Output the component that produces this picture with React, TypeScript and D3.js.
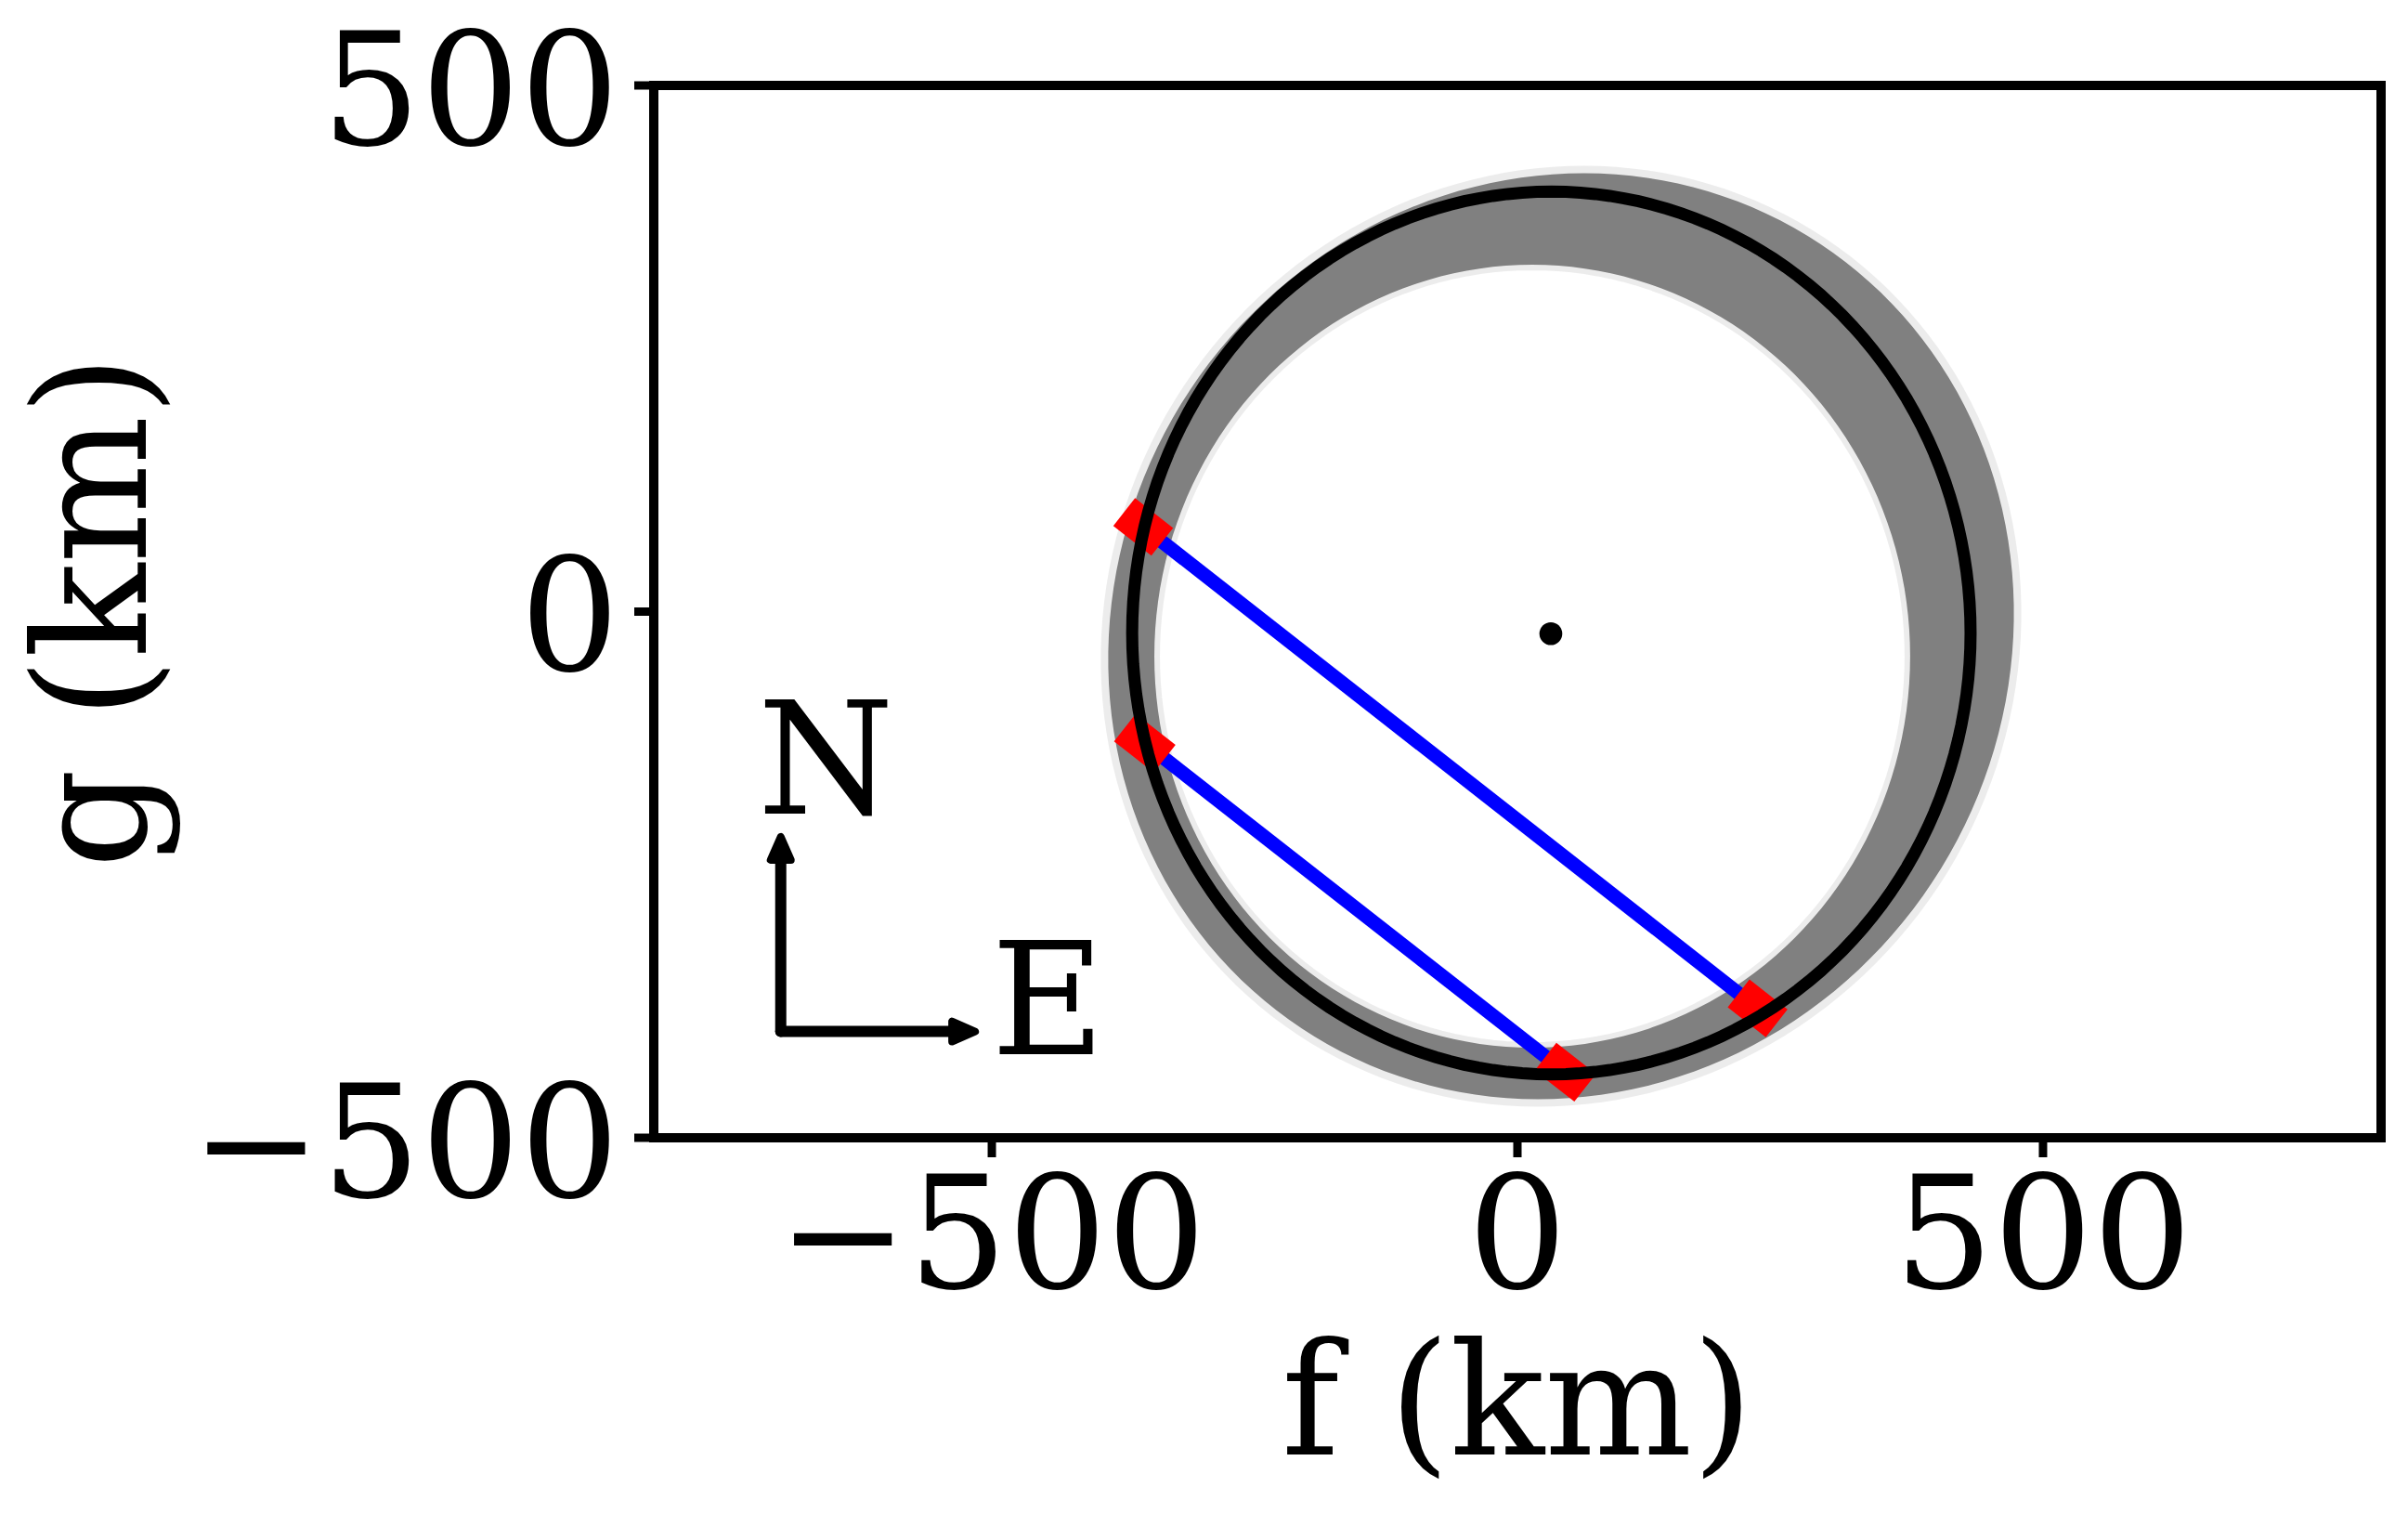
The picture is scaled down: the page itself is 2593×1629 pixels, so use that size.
import React from 'react';
import * as d3 from 'd3';

const W = 2593;
const H = 1629;
const FONT = '"DejaVu Serif", "Liberation Serif", serif';
const FS = 168;

// axes
const xDomain = [-821.6, 821.6];
const yDomain = [-500, 500];
const xTicks = [-500, 0, 500];
const yTicks = [-500, 0, 500];

// fitted ellipse (black)
const fitCenter = [32.3, -20.3];
const fitRadii = [398.8, 419.4];

// centre dot
const dotPos = [31.8, -21.0];

// uncertainty band: outer envelope (rotated ellipse) and inner envelope (ellipse)
const outerCenter = [41.5, -23.4];
const outerAxes = [447, 423.5]; // major, minor (km)
const outerAngle = 33.5; // deg from north toward east
const innerCenter = [14.1, -42.4];
const innerRadii = [359.5, 372.0];

// chords
const chordStartF = [-356.0, -354.5];
const chordStartG = [80.5, -125.0];
const chordEndF = [228.5, 45.6];
const chordEndG = [-377.0, -437.7];
const startErr = [23, 24];
const endErr = [23, 24];

// compass
const compassOrigin = [-700.8, -399.0];
const compassLen = 185;

export default function App() {
  const x = d3.scaleLinear().domain(xDomain).range([704, 2564]);
  const y = d3.scaleLinear().domain(yDomain).range([1225, 92]);
  const left = x(xDomain[0]);
  const right = x(xDomain[1]);
  const top = y(yDomain[1]);
  const bottom = y(yDomain[0]);

  const angles = d3.range(0, 361, 2).map((a) => (a * Math.PI) / 180);
  const th = (outerAngle * Math.PI) / 180;
  const u = [Math.sin(th), Math.cos(th)];
  const v = [Math.cos(th), -Math.sin(th)];
  const outerPts: [number, number][] = angles.map((t) => [
    x(outerCenter[0] + outerAxes[0] * Math.sin(t) * u[0] + outerAxes[1] * Math.cos(t) * v[0]),
    y(outerCenter[1] + outerAxes[0] * Math.sin(t) * u[1] + outerAxes[1] * Math.cos(t) * v[1]),
  ]);
  const outerPath = d3.line().curve(d3.curveLinearClosed)(outerPts) || '';
  const innerPts: [number, number][] = angles.map((t) => [
    x(innerCenter[0] + innerRadii[0] * Math.cos(t)),
    y(innerCenter[1] + innerRadii[1] * Math.sin(t)),
  ]);
  const innerPath = d3.line().curve(d3.curveLinearClosed)(innerPts) || '';

  const fitPts: [number, number][] = angles.map((t) => [
    x(fitCenter[0] + fitRadii[0] * Math.cos(t)),
    y(fitCenter[1] + fitRadii[1] * Math.sin(t)),
  ]);
  const fitPath = d3.line().curve(d3.curveLinearClosed)(fitPts) || '';

  const errSegs: { x1: number; y1: number; x2: number; y2: number }[] = [];
  chordStartF.forEach((f0, i) => {
    const dx = chordEndF[i] - f0;
    const dy = chordEndG[i] - chordStartG[i];
    const L = Math.hypot(dx, dy);
    const ux = dx / L;
    const uy = dy / L;
    errSegs.push({
      x1: x(f0 - ux * startErr[i]), y1: y(chordStartG[i] - uy * startErr[i]),
      x2: x(f0 + ux * startErr[i]), y2: y(chordStartG[i] + uy * startErr[i]),
    });
    errSegs.push({
      x1: x(chordEndF[i] - ux * endErr[i]), y1: y(chordEndG[i] - uy * endErr[i]),
      x2: x(chordEndF[i] + ux * endErr[i]), y2: y(chordEndG[i] + uy * endErr[i]),
    });
  });

  const cx0 = x(compassOrigin[0]);
  const cy0 = y(compassOrigin[1]);
  const nTip = y(compassOrigin[1] + compassLen);
  const eTip = x(compassOrigin[0] + compassLen);
  const head = 28;

  return (
    <svg width={W} height={H} style={{ position: 'absolute', left: 0, top: 0, background: '#fff' }} fontFamily={FONT}>
      <rect x={0} y={0} width={W} height={H} fill="#fff" />
      <defs>
        <clipPath id="plotclip">
          <rect x={left} y={top} width={right - left} height={bottom - top} />
        </clipPath>
      </defs>
      <g clipPath="url(#plotclip)">
        {/* uncertainty band */}
        <path d={outerPath} fill="none" stroke="#808080" strokeOpacity={0.15} strokeWidth={16} />
        <path d={innerPath} fill="none" stroke="#808080" strokeOpacity={0.15} strokeWidth={12} />
        <path d={outerPath + innerPath} fill="#808080" fillRule="evenodd" />
        {/* chords */}
        {chordStartF.map((f0, i) => (
          <line key={'c' + i} x1={x(f0)} y1={y(chordStartG[i])} x2={x(chordEndF[i])} y2={y(chordEndG[i])}
            stroke="#0000ff" strokeWidth={15} />
        ))}
        {errSegs.map((s, i) => (
          <line key={'e' + i} {...s} stroke="#ff0000" strokeWidth={38} strokeLinecap="butt" />
        ))}
        {/* fitted ellipse */}
        <path d={fitPath} fill="none" stroke="#000" strokeWidth={13} />
        <circle cx={x(dotPos[0])} cy={y(dotPos[1])} r={12.3} fill="#000" />
        {/* compass */}
        <line x1={cx0} y1={cy0} x2={cx0} y2={nTip + head - 4} stroke="#000" strokeWidth={12} strokeLinecap="round" />
        <line x1={cx0} y1={cy0} x2={eTip - head + 4} y2={cy0} stroke="#000" strokeWidth={12} strokeLinecap="round" />
        <polygon points={`${cx0},${nTip} ${cx0 - 11},${nTip + head - 3} ${cx0 + 11},${nTip + head - 3}`}
          fill="#000" stroke="#000" strokeWidth={8} strokeLinejoin="round" />
        <polygon points={`${eTip},${cy0} ${eTip - head + 3},${cy0 - 11} ${eTip - head + 3},${cy0 + 11}`}
          fill="#000" stroke="#000" strokeWidth={8} strokeLinejoin="round" />
        <text x={cx0 - 25} y={nTip - 25} fontSize={FS} fill="#000">N</text>
        <text x={eTip + 17} y={cy0 + 24} fontSize={FS} fill="#000">E</text>
      </g>

      {/* frame */}
      <rect x={left} y={top} width={right - left} height={bottom - top} fill="none" stroke="#000" strokeWidth={10} />

      {/* x ticks */}
      {xTicks.map((t) => (
        <g key={'xt' + t}>
          <line x1={x(t)} x2={x(t)} y1={bottom} y2={bottom + 21} stroke="#000" strokeWidth={9} />
          <text x={x(t)} y={1387} fontSize={FS} textAnchor="middle" fill="#000">
            {t < 0 ? '\u2212' + Math.abs(t) : String(t)}
          </text>
        </g>
      ))}
      {/* y ticks */}
      {yTicks.map((t) => (
        <g key={'yt' + t}>
          <line x1={left - 21} x2={left} y1={y(t)} y2={y(t)} stroke="#000" strokeWidth={9} />
          <text x={667} y={y(t)} dy="0.38em" fontSize={FS} textAnchor="end" fill="#000">
            {t < 0 ? '\u2212' + Math.abs(t) : String(t)}
          </text>
        </g>
      ))}

      <text x={(left + right) / 2} y={1566} fontSize={FS} textAnchor="middle" fill="#000">f (km)</text>
      <text transform={`translate(157, ${(top + bottom) / 2}) rotate(-90)`} fontSize={FS} textAnchor="middle" fill="#000">g (km)</text>
    </svg>
  );
}
